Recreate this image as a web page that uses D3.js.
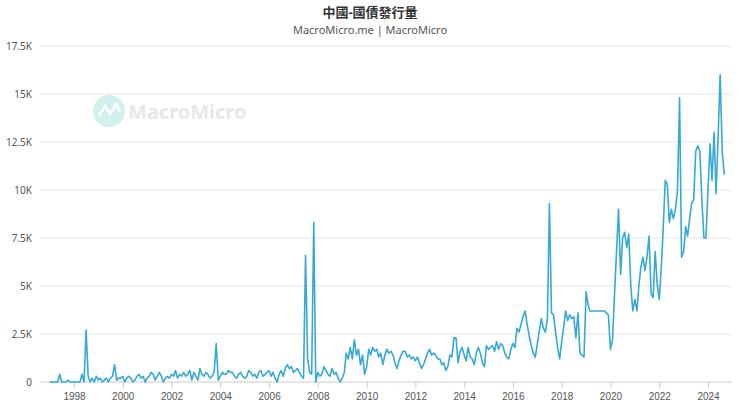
<!DOCTYPE html>
<html>
<head>
<meta charset="utf-8">
<script src="https://cdn.jsdelivr.net/npm/d3@7"></script>
<style>
  body { margin: 0; background: #fff; font-family: "Noto Sans", "Noto Sans CJK TC", sans-serif; }
</style>
</head>
<body>
<svg id="chart" width="740" height="416"></svg>
<script>
// Monthly issuance by year (values in 100M CNY), starting Jan 1997
const startYear = 1997;
const y1997 = [0, 0, 0, 0, 0, 400, 0, 0, 0, 100, 0, 0];
const y1998 = [0, 0, 0, 0, 400, 0, 2700, 300, 0, 200, 0, 300];
const y1999 = [100, 200, 0, 100, 200, 0, 200, 300, 900, 100, 200, 200];
const y2000 = [300, 0, 200, 300, 200, 0, 100, 300, 400, 200, 300, 0];
const y2001 = [200, 300, 500, 400, 100, 300, 500, 300, 0, 200, 300, 200];
const y2002 = [400, 300, 600, 200, 400, 300, 500, 300, 400, 600, 100, 500];
const y2003 = [300, 100, 700, 400, 300, 500, 400, 200, 300, 500, 2000, 100];
const y2004 = [300, 500, 400, 400, 600, 500, 500, 300, 200, 400, 500, 300];
const y2005 = [200, 300, 600, 500, 300, 400, 200, 500, 600, 300, 400, 500];
const y2006 = [600, 300, 500, 200, 0, 400, 600, 300, 700, 900, 700, 800];
const y2007 = [500, 600, 700, 500, 300, 200, 6600, 1200, 500, 400, 8300, 0];
const y2008 = [500, 300, 400, 800, 600, 400, 300, 700, 400, 500, 200, 0];
const y2009 = [200, 500, 1500, 1200, 1800, 1200, 2200, 1400, 1700, 900, 1400, 400];
const y2010 = [800, 1700, 1400, 1800, 1600, 1700, 1300, 1500, 900, 1400, 1700, 1500];
const y2011 = [1600, 1400, 1000, 700, 1100, 1400, 1600, 1600, 1300, 1400, 1200, 1300];
const y2012 = [1100, 1300, 1000, 700, 900, 1200, 1500, 1700, 1400, 1500, 1400, 1200];
const y2013 = [1200, 900, 1000, 600, 800, 1400, 1300, 2300, 2300, 1000, 1600, 1800];
const y2014 = [1400, 1100, 1800, 1300, 1200, 900, 1500, 1800, 1500, 1000, 800, 1900];
const y2015 = [1700, 1800, 1900, 1600, 2100, 1700, 2000, 1900, 1500, 1300, 1200, 1700];
const y2016 = [2000, 1800, 2800, 2600, 3000, 3400, 3700, 3000, 2400, 1900, 1500, 1300];
const y2017 = [2000, 2700, 3300, 2800, 2600, 3300, 9300, 3600, 3500, 2600, 1800, 1200];
const y2018 = [2100, 2900, 3700, 3200, 3500, 3300, 3400, 2300, 3600, 1500, 1400, 1300];
const y2019 = [4700, 4000, 3700, 3700, 3700, 3700, 3700, 3700, 3700, 3700, 3600, 3500];
const y2020 = [1700, 2200, 4500, 6800, 9000, 5600, 7500, 7800, 7000, 7700, 5000, 3700];
const y2021 = [4300, 3700, 5000, 6000, 6500, 5800, 6500, 7600, 4600, 4400, 6800, 5100];
const y2022 = [4300, 6000, 8000, 10500, 10300, 8300, 9000, 8500, 9000, 10000, 14800, 6500];
const y2023 = [6800, 8100, 7600, 8500, 9300, 9500, 12000, 12300, 12000, 9500, 7500, 7500];
const y2024 = [10000, 12400, 10500, 13000, 9800, 12800, 16000, 12000, 10800];

const years = [y1997, y1998, y1999, y2000, y2001, y2002, y2003, y2004, y2005, y2006,
  y2007, y2008, y2009, y2010, y2011, y2012, y2013, y2014, y2015, y2016,
  y2017, y2018, y2019, y2020, y2021, y2022, y2023, y2024];

const yTicks = [0, 2500, 5000, 7500, 10000, 12500, 15000, 17500];
const yTickLabels = ["0", "2.5K", "5K", "7.5K", "10K", "12.5K", "15K", "17.5K"];
const xTickYears = [1998, 2000, 2002, 2004, 2006, 2008, 2010, 2012, 2014, 2016, 2018, 2020, 2022, 2024];

const data = [];
years.forEach((vals, i) => {
  vals.forEach((v, m) => data.push({ date: new Date(startYear + i, m, 1), value: v }));
});

const svg = d3.select("#chart");

const x = d3.scaleTime()
  .domain([new Date(1998, 0, 1), new Date(2024, 0, 1)])
  .range([74, 708]);
const y = d3.scaleLinear().domain([0, 17500]).range([382, 46]);

svg.append("text").attr("x", 370).attr("y", 17).attr("text-anchor", "middle")
  .attr("font-size", 13).attr("font-weight", "bold").attr("fill", "#333")
  .text("中國-國債發行量");
svg.append("text").attr("x", 370).attr("y", 34).attr("text-anchor", "middle")
  .attr("font-size", 11).attr("fill", "#555")
  .text("MacroMicro.me | MacroMicro");

// watermark
const wm = svg.append("g").attr("opacity", 0.35);
wm.append("circle").attr("cx", 109).attr("cy", 111).attr("r", 16).attr("fill", "#7fd6cc");
wm.append("path").attr("d", "M99,116 L105,106 L110,114 L116,104 L120,112")
  .attr("fill", "none").attr("stroke", "#fff").attr("stroke-width", 2.5);
wm.append("text").attr("x", 128).attr("y", 119).attr("font-size", 20)
  .attr("font-weight", "bold").attr("fill", "#bbb").text("MacroMicro");

// grid
svg.append("g").selectAll("line").data(yTicks).join("line")
  .attr("x1", 40).attr("x2", 732)
  .attr("y1", d => y(d)).attr("y2", d => y(d))
  .attr("stroke", d => d === 0 ? "#ccc" : "#e6e6e6");

svg.append("g").selectAll("text").data(yTicks).join("text")
  .attr("x", 32).attr("y", d => y(d) + 4).attr("text-anchor", "end")
  .attr("font-size", 10).attr("fill", "#555")
  .text((d, i) => yTickLabels[i]);

const xAxis = svg.append("g").attr("transform", "translate(0,382)")
  .call(d3.axisBottom(x).tickValues(xTickYears.map(yr => new Date(yr, 0, 1)))
    .tickFormat(d3.timeFormat("%Y")).tickSize(6));
xAxis.select(".domain").remove();
xAxis.selectAll("line").attr("stroke", "#ccc");
xAxis.selectAll("text").attr("font-size", 10).attr("fill", "#555").attr("dy", "0.9em");

const line = d3.line().x(d => x(d.date)).y(d => y(d.value));
svg.append("path").datum(data).attr("d", line)
  .attr("fill", "none").attr("stroke", "#36a9d4").attr("stroke-width", 1.6)
  .attr("stroke-linejoin", "round");
</script>
</body>
</html>
